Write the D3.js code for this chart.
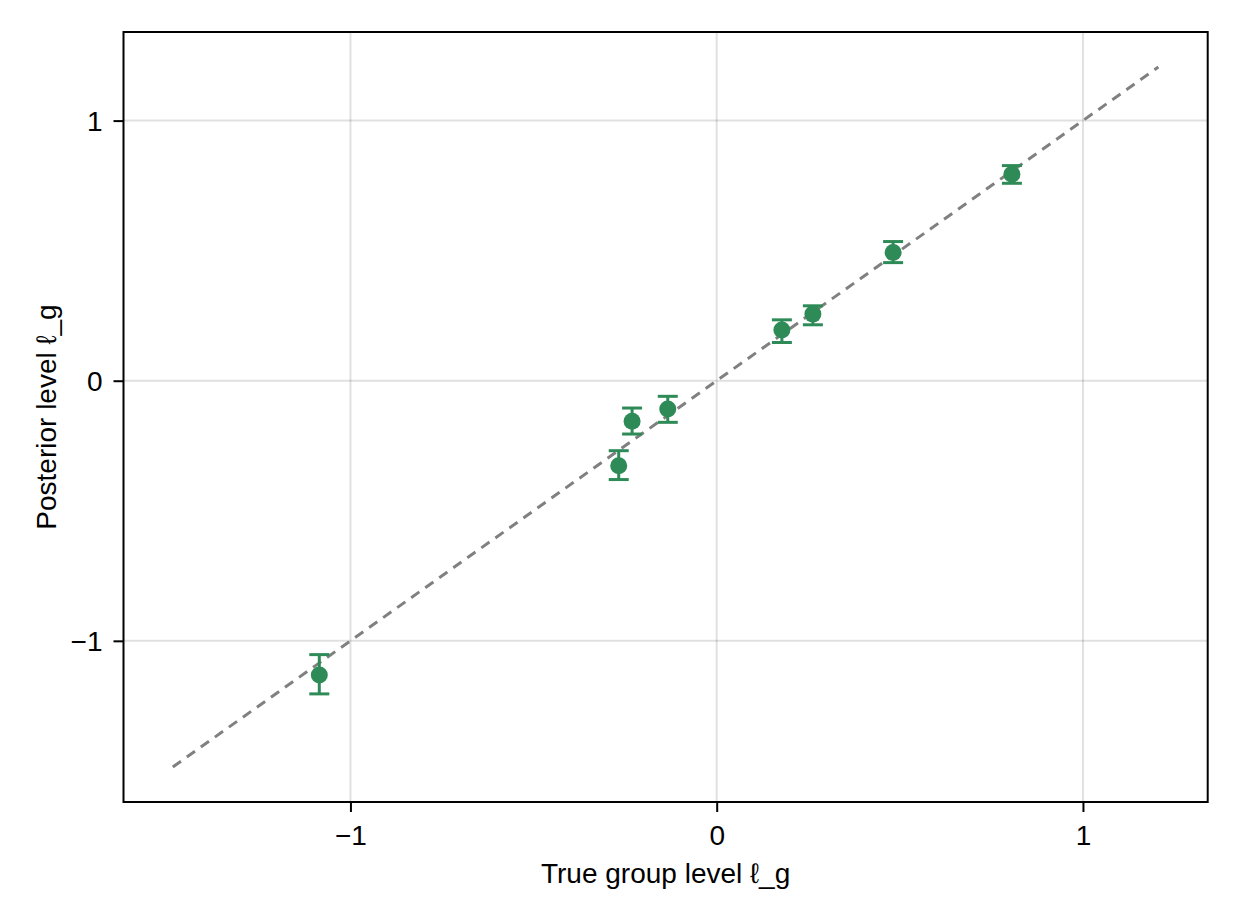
<!DOCTYPE html>
<html>
<head>
<meta charset="utf-8">
<script src="https://cdn.jsdelivr.net/npm/d3@7"></script>
<style>
  html, body { margin: 0; padding: 0; background: #fff; }
  svg text { font-family: "Liberation Sans", Arial, "DejaVu Sans", sans-serif; }
</style>
</head>
<body>
<svg id="chart" width="1240" height="920"></svg>
<script>
// ---- data ----
const trueLevels = [-1.085, -0.2675, -0.231, -0.1336, 0.178, 0.2626, 0.4817, 0.806];
const postMeans  = [-1.131, -0.3266, -0.156, -0.109, 0.195, 0.256, 0.493, 0.794];
const postLower  = [-1.204, -0.380, -0.205, -0.160, 0.147, 0.215, 0.454, 0.759];
const postUpper  = [-1.053, -0.269, -0.105, -0.060, 0.234, 0.288, 0.535, 0.827];
const refLineX   = [-1.485, 1.206];
const xTicks = [-1, 0, 1];
const yTicks = [-1, 0, 1];
const xDomain = [-1.6196, 1.3406];
const yDomain = [-1.6196, 1.3406];
const xLabel = "True group level ℓ_g";
const yLabel = "Posterior level ℓ_g";

// ---- layout ----
const svg = d3.select("#chart");
const L = 123.5, R = 1207.7, T = 32, B = 802;
const FS = 28;
const x = d3.scaleLinear().domain(xDomain).range([L, R]);
const y = d3.scaleLinear().domain(yDomain).range([B, T]);
const green = "#2e8b57";
const fmt = d => d < 0 ? "\u2212" + Math.abs(d) : String(d);

// grid
const grid = svg.append("g");
grid.selectAll("line.gx").data(xTicks).join("line")
  .attr("x1", d => x(d)).attr("x2", d => x(d)).attr("y1", T).attr("y2", B)
  .attr("stroke", "rgba(0,0,0,0.12)").attr("stroke-width", 2);
grid.selectAll("line.gy").data(yTicks).join("line")
  .attr("y1", d => y(d)).attr("y2", d => y(d)).attr("x1", L).attr("x2", R)
  .attr("stroke", "rgba(0,0,0,0.12)").attr("stroke-width", 2);

// reference line y = x
svg.append("path")
  .datum(refLineX.map(v => [v, v]))
  .attr("d", d3.line().x(d => x(d[0])).y(d => y(d[1])))
  .attr("fill", "none").attr("stroke", "#808080").attr("stroke-width", 3)
  .attr("stroke-dasharray", "10,7.2");

const pts = trueLevels.map((t, i) => ({ t, m: postMeans[i], lo: postLower[i], hi: postUpper[i] }));

// error bars
const eb = svg.append("g").attr("stroke", green).attr("stroke-width", 3);
eb.selectAll("line.v").data(pts).join("line")
  .attr("x1", d => x(d.t)).attr("x2", d => x(d.t))
  .attr("y1", d => y(d.lo)).attr("y2", d => y(d.hi));
eb.selectAll("line.top").data(pts).join("line")
  .attr("x1", d => x(d.t) - 10).attr("x2", d => x(d.t) + 10)
  .attr("y1", d => y(d.hi)).attr("y2", d => y(d.hi));
eb.selectAll("line.bot").data(pts).join("line")
  .attr("x1", d => x(d.t) - 10).attr("x2", d => x(d.t) + 10)
  .attr("y1", d => y(d.lo)).attr("y2", d => y(d.lo));

// points
svg.append("g").selectAll("circle").data(pts).join("circle")
  .attr("cx", d => x(d.t)).attr("cy", d => y(d.m)).attr("r", 8.5)
  .attr("fill", green);

// frame
svg.append("rect").attr("x", L).attr("y", T).attr("width", R - L).attr("height", B - T)
  .attr("fill", "none").attr("stroke", "#000").attr("stroke-width", 2);

// axes
const xAxis = d3.axisBottom(x).tickValues(xTicks).tickFormat(fmt).tickSize(10);
const gx = svg.append("g").attr("transform", `translate(0,${B})`).call(xAxis);
const yAxis = d3.axisLeft(y).tickValues(yTicks).tickFormat(fmt).tickSize(10);
const gy = svg.append("g").attr("transform", `translate(${L},0)`).call(yAxis);
[gx, gy].forEach(g => {
  g.select(".domain").remove();
  g.selectAll(".tick line").attr("stroke", "#000").attr("stroke-width", 2);
  g.selectAll(".tick text").attr("font-size", FS).attr("fill", "#000")
    .style("font-family", "'Liberation Sans', Arial, sans-serif");
});
gx.selectAll(".tick text").attr("y", 43).attr("dy", 0);
gy.selectAll(".tick text").attr("x", -21).attr("dy", "0.36em");

// axis labels
svg.append("text").attr("x", (L + R) / 2).attr("y", 883)
  .attr("text-anchor", "middle").attr("font-size", FS).attr("fill", "#000").text(xLabel);
svg.append("text").attr("transform", `translate(56,${(T + B) / 2}) rotate(-90)`)
  .attr("text-anchor", "middle").attr("font-size", FS).attr("fill", "#000").text(yLabel);
</script>
</body>
</html>
